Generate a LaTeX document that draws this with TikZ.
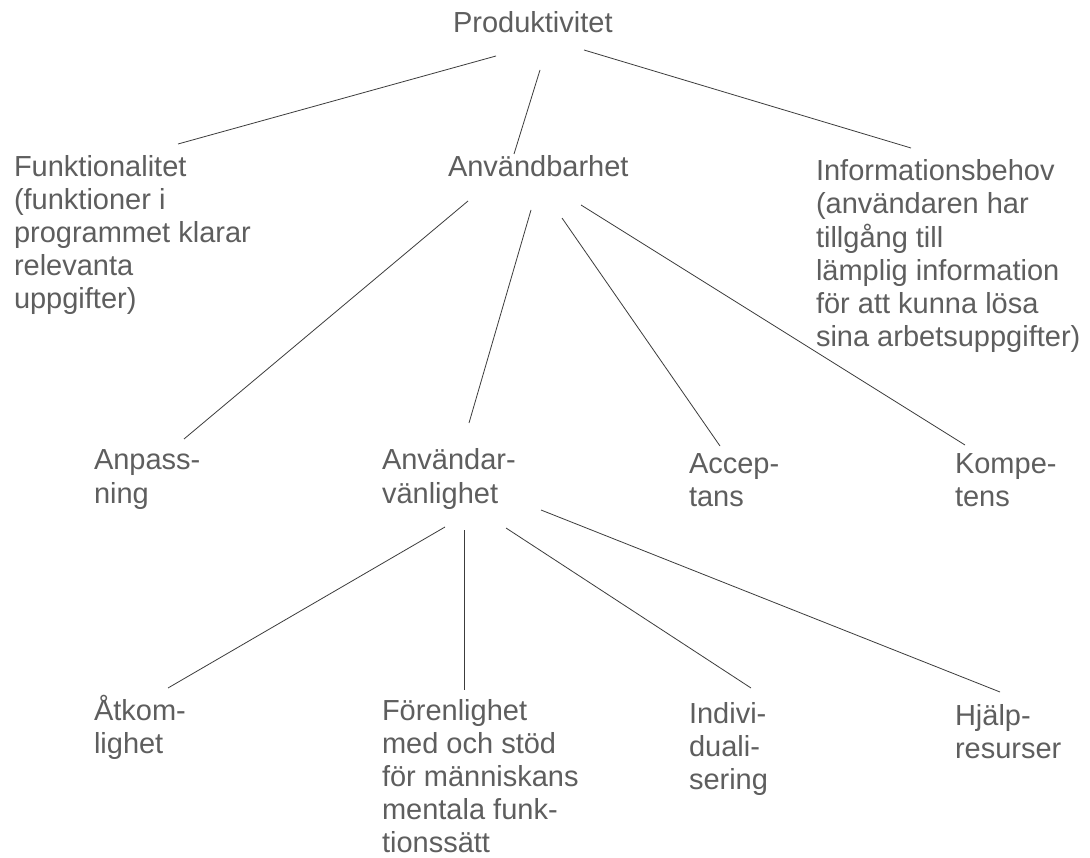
\documentclass[tikz,border=0pt]{standalone}
\usepackage{fontspec}
\setmainfont{Liberation Sans}
\definecolor{txt}{HTML}{5E5E5E}
\definecolor{ln}{HTML}{3C3C3C}
\newcommand{\lbl}[1]{\begin{tabular}[t]{@{}l@{}}#1\end{tabular}}
\begin{document}
\begin{tikzpicture}[x=1pt,y=-1pt,
  item/.style={anchor=base west,inner sep=0pt,outer sep=0pt,text=txt,font=\fontsize{29}{33}\selectfont},
  conn/.style={draw=ln,line width=0.8pt}]
\useasboundingbox[fill=white] (0,0) rectangle (1090,858);
% level 0
\node[item] (P) at (453,33) {Produktivitet};
% level 1
\node[item] (F) at (14,177) {\lbl{Funktionalitet\\(funktioner i\\programmet klarar\\relevanta\\uppgifter)}};
\node[item] (A) at (448,177) {Användbarhet};
\node[item] (I) at (816,181) {\lbl{Informationsbehov\\(användaren har\\tillgång till\\lämplig information\\för att kunna lösa\\sina arbetsuppgifter)}};
% level 2
\node[item] (Anp) at (94,470) {\lbl{Anpass-\\ning}};
\node[item] (U) at (382,470) {\lbl{Användar-\\vänlighet}};
\node[item] (Acc) at (689,473) {\lbl{Accep-\\tans}};
\node[item] (K) at (955,473) {\lbl{Kompe-\\tens}};
% level 3
\node[item] (At) at (94,720) {\lbl{Åtkom-\\lighet}};
\node[item] (Fo) at (382,720) {\lbl{Förenlighet\\med och stöd\\för människans\\mentala funk-\\tionssätt}};
\node[item] (Ind) at (689,723) {\lbl{Indivi-\\duali-\\sering}};
\node[item] (H) at (955,725) {\lbl{Hjälp-\\resurser}};
% connectors
\draw[conn] ([shift={(43,23)}]P.base west) -- ([shift={(164,-33)}]F.base west);
\draw[conn] ([shift={(87,37)}]P.base west) -- ([shift={(66,-23)}]A.base west);
\draw[conn] ([shift={(131,17)}]P.base west) -- ([shift={(95,-33)}]I.base west);
\draw[conn] ([shift={(20,24)}]A.base west) -- ([shift={(90,-31)}]Anp.base west);
\draw[conn] ([shift={(83,33)}]A.base west) -- ([shift={(87,-47)}]U.base west);
\draw[conn] ([shift={(114,41)}]A.base west) -- ([shift={(31,-27)}]Acc.base west);
\draw[conn] ([shift={(133,28)}]A.base west) -- ([shift={(10,-28)}]K.base west);
\draw[conn] ([shift={(63,57)}]U.base west) -- ([shift={(74,-32)}]At.base west);
\draw[conn] ([shift={(82,60)}]U.base west) -- ([shift={(82,-30)}]Fo.base west);
\draw[conn] ([shift={(124,58)}]U.base west) -- ([shift={(62,-35)}]Ind.base west);
\draw[conn] ([shift={(159,40)}]U.base west) -- ([shift={(45,-33)}]H.base west);
\end{tikzpicture}
\end{document}
